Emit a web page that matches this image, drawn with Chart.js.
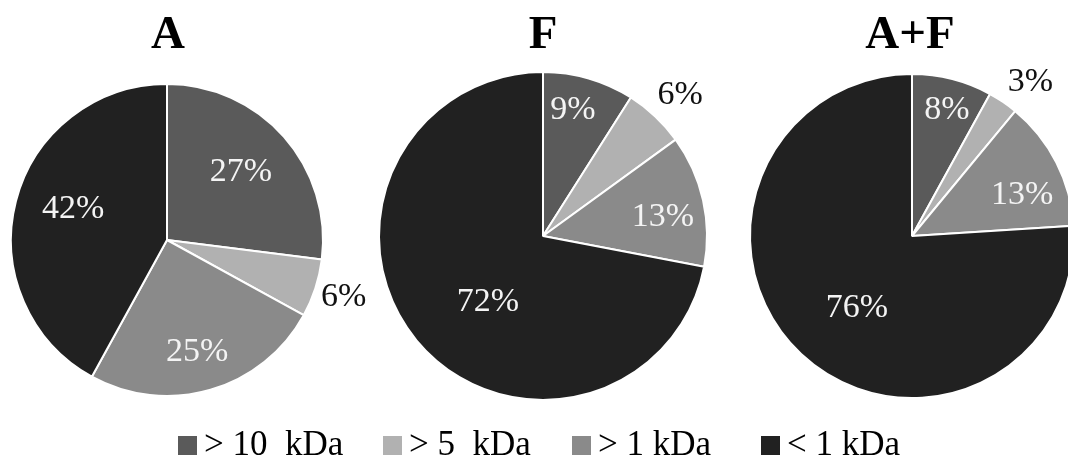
<!DOCTYPE html>
<html>
<head>
<meta charset="utf-8">
<script src="https://cdn.jsdelivr.net/npm/chart.js@4.4.1/dist/chart.umd.min.js"></script>
<style>
  html, body { margin: 0; padding: 0; background: #fff; }
  body {
    width: 1068px; height: 458px; overflow: hidden; position: relative;
    font-family: "Liberation Serif", "Times New Roman", serif; color: #000;
  }
  .panel { position: absolute; top: 0; }
  .panel canvas { display: block; }
  .title {
    position: absolute; font-weight: bold; font-size: 47px; line-height: 47px;
    transform: translateX(-50%); white-space: nowrap;
  }
  .legend-item {
    position: absolute; top: 426px; height: 35px; font-size: 35px; line-height: 35px;
    white-space: pre;
  }
  .legend-box { position: absolute; left: 0; top: 10px; width: 19px; height: 19px; }
  .legend-text { position: absolute; left: 26px; top: 0; }
</style>
</head>
<body>
<script>
// Molecular-weight fractions and their share (%) in each sample
const categories = ['> 10  kDa', '> 5  kDa', '> 1 kDa', '< 1 kDa'];
const sampleNames = ['A', 'F', 'A+F'];
const valuesA = [27, 6, 25, 42];
const valuesF = [9, 6, 13, 72];
const valuesAF = [8, 3, 13, 76];

// Styling
const sliceColors = ['#5a5a5a', '#b1b1b1', '#8a8a8a', '#212121'];
const insideLabelColor = '#f4f4f4';
const outsideLabelColor = '#111111';

// Panel geometry: pie centre and radius, plus per-slice label placement
// (f = fraction of radius, da = angular nudge in degrees, out = label sits outside)
const panels = [
  { name: sampleNames[0], values: valuesA, cx: 167, cy: 240, r: 156, titleX: 168,
    labels: [{ f: 0.644, da: -1.2 }, { f: 1.19, da: 0, out: true }, { f: 0.744, da: 1.2 }, { f: 0.633, da: 3.6 }] },
  { name: sampleNames[1], values: valuesF, cx: 543, cy: 236, r: 164, titleX: 543,
    labels: [{ f: 0.79, da: -2.8 }, { f: 1.2, da: 1, out: true }, { f: 0.74, da: 3.6 }, { f: 0.524, da: -10.6 }] },
  { name: sampleNames[2], values: valuesAF, cx: 912, cy: 236, r: 162, titleX: 910,
    labels: [{ f: 0.807, da: 1.1 }, { f: 1.2, da: 3.3, out: true }, { f: 0.725, da: 6.6 }, { f: 0.56, da: -5.8 }] }
];
const legendX = [178, 383, 572, 761];
const CANVAS_W = 1110;   // wider than the page so the right-hand pie can run off the edge
const HEIGHT = 458;
const BORDER = 2;

// Draws the percentage labels at each arc's own angle
const sliceLabels = {
  id: 'sliceLabels',
  afterDatasetsDraw(chart, args, opts) {
    const ctx = chart.ctx;
    const meta = chart.getDatasetMeta(0);
    const data = chart.data.datasets[0].data;
    ctx.save();
    ctx.font = '34px "Liberation Serif", "Times New Roman", serif';
    ctx.textAlign = 'center';
    ctx.textBaseline = 'middle';
    meta.data.forEach((arc, i) => {
      const p = arc.getProps(['x', 'y', 'startAngle', 'endAngle', 'outerRadius'], true);
      const spec = opts.place[i];
      const mid = (p.startAngle + p.endAngle) / 2 + spec.da * Math.PI / 180;
      const d = p.outerRadius * spec.f;
      ctx.fillStyle = spec.out ? outsideLabelColor : insideLabelColor;
      ctx.fillText(data[i] + '%', p.x + Math.cos(mid) * d, p.y + Math.sin(mid) * d);
    });
    ctx.restore();
  }
};

panels.forEach((p) => {
  const div = document.createElement('div');
  div.className = 'panel';
  div.style.left = '0px';
  div.style.width = CANVAS_W + 'px';
  div.style.height = HEIGHT + 'px';
  const canvas = document.createElement('canvas');
  canvas.width = CANVAS_W;
  canvas.height = HEIGHT;
  canvas.style.width = CANVAS_W + 'px';
  canvas.style.height = HEIGHT + 'px';
  div.appendChild(canvas);
  document.body.appendChild(div);

  const side = 2 * p.r + BORDER;
  const padLeft = p.cx - p.r - BORDER / 2;
  const padTop = p.cy - p.r - BORDER / 2;

  new Chart(canvas, {
    type: 'pie',
    data: {
      labels: categories,
      datasets: [{
        data: p.values,
        backgroundColor: sliceColors,
        borderColor: '#ffffff',
        borderWidth: BORDER
      }]
    },
    options: {
      responsive: false,
      animation: false,
      devicePixelRatio: 1,
      layout: {
        padding: {
          left: padLeft,
          top: padTop,
          right: CANVAS_W - padLeft - side,
          bottom: HEIGHT - padTop - side
        }
      },
      plugins: {
        legend: { display: false },
        title: { display: false },
        tooltip: { enabled: false },
        sliceLabels: { place: p.labels }
      }
    },
    plugins: [sliceLabels]
  });

  const t = document.createElement('div');
  t.className = 'title';
  t.style.left = p.titleX + 'px';
  t.style.top = '9px';
  t.textContent = p.name;
  document.body.appendChild(t);
});

// Shared legend along the bottom
categories.forEach((c, i) => {
  const item = document.createElement('div');
  item.className = 'legend-item';
  item.style.left = legendX[i] + 'px';
  const box = document.createElement('div');
  box.className = 'legend-box';
  box.style.background = sliceColors[i];
  const txt = document.createElement('span');
  txt.className = 'legend-text';
  txt.textContent = c;
  item.appendChild(box);
  item.appendChild(txt);
  document.body.appendChild(item);
});
</script>
</body>
</html>
